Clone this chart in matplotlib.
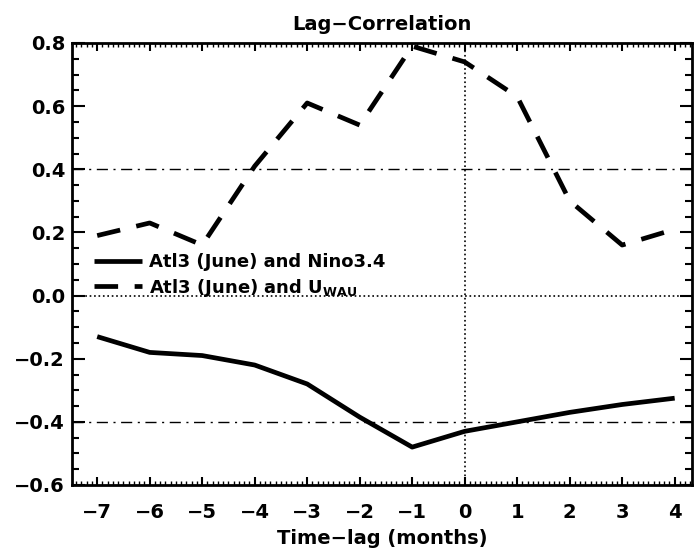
import matplotlib
matplotlib.use("Agg")
import matplotlib.pyplot as plt
from matplotlib.ticker import MultipleLocator

lags = [-7, -6, -5, -4, -3, -2, -1, 0, 1, 2, 3, 4]
# Atl3 (June) vs Nino3.4
corr_nino = [-0.13, -0.18, -0.19, -0.22, -0.28, -0.385, -0.48, -0.43, -0.40, -0.37, -0.345, -0.325]
# Atl3 (June) vs U_WAU
corr_uwau = [0.19, 0.23, 0.16, 0.41, 0.61, 0.54, 0.79, 0.74, 0.63, 0.30, 0.16, 0.21]

plt.rcParams['font.family'] = 'DejaVu Sans'
plt.rcParams['font.weight'] = 'bold'

fig = plt.figure(figsize=(6.94, 5.57), dpi=100)
ax = fig.add_axes([72/694, 1 - 485/557, 620/694, 442/557])

ax.plot(lags, corr_nino, "-k", lw=3.4, solid_capstyle="butt", label="Atl3 (June) and Nino3.4")
ax.plot(lags, corr_uwau, "--k", lw=3.4, dashes=(5, 3.5),
        label=r"Atl3 (June) and U$_{\mathregular{WAU}}$")

# reference lines
ax.axhline(0.4, color="k", lw=1.0, ls="-.", dashes=(8, 4, 1.5, 4))
ax.axhline(-0.4, color="k", lw=1.0, ls="-.", dashes=(8, 4, 1.5, 4))
ax.axhline(0.0, color="k", lw=1.2, ls=":")
ax.axvline(0.0, color="k", lw=1.2, ls=":")

ax.set_xlim(-7.48, 4.33)
ax.set_ylim(-0.6, 0.8)
ax.xaxis.set_major_locator(MultipleLocator(1))
ax.xaxis.set_minor_locator(MultipleLocator(0.1))
ax.yaxis.set_major_locator(MultipleLocator(0.2))
ax.yaxis.set_minor_locator(MultipleLocator(0.05))
ax.yaxis.set_major_formatter(lambda v, p: ("%.1f" % v).replace("-", "\u2212"))
ax.xaxis.set_major_formatter(lambda v, p: ("%d" % round(v)).replace("-", "\u2212"))

ax.tick_params(which="both", direction="in", top=True, right=True, width=1.5, labelsize=14)
ax.tick_params(axis="y", which="major", length=9, pad=5)
ax.tick_params(axis="y", which="minor", length=5)
ax.tick_params(axis="x", which="major", length=6, pad=13)
ax.tick_params(axis="x", which="minor", length=3, width=1.0)
for s in ax.spines.values():
    s.set_linewidth(2)

ax.set_title("Lag\u2212Correlation", fontsize=14, fontweight="bold", pad=9)
ax.set_xlabel("Time\u2212lag (months)", fontsize=14, fontweight="bold", labelpad=5)

ax.legend(loc="upper left", bbox_to_anchor=(0.035, 0.524), frameon=False, fontsize=13,
          handlelength=2.65, handletextpad=0.4, labelspacing=0.3, borderpad=0,
          borderaxespad=0)

fig.savefig("out.png", dpi=100)
